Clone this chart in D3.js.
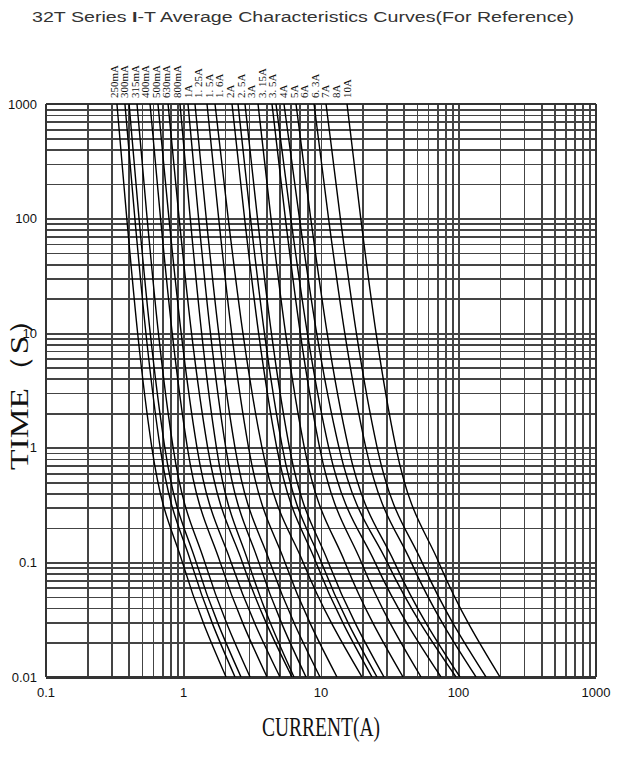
<!DOCTYPE html>
<html><head><meta charset="utf-8">
<script src="https://cdn.jsdelivr.net/npm/d3@7"></script>
<style>body{margin:0;background:#fff}svg{display:block}</style>
</head><body><svg id="c" width="621" height="778"></svg>
<script>
// ---- data ----
const times = [1000, 100, 10, 1, 0.1, 0.01];
const ratingLabels = ["250mA","300mA","315mA","400mA","500mA","630mA","800mA","1A","1. 25A","1. 5A","1. 6A","2A","2. 5A","3A","3. 15A","3. 5A","4A","5A","6A","6. 3A","7A","8A","10A"];
// current (A) at each time in `times`, one row per rating
const currents = [
  [0.328, 0.387, 0.464, 0.589, 0.982, 2.04],
  [0.375, 0.443, 0.533, 0.677, 1.134, 2.37],
  [0.402, 0.475, 0.573, 0.732, 1.237, 2.62],
  [0.459, 0.544, 0.657, 0.841, 1.428, 3.05],
  [0.571, 0.681, 0.828, 1.068, 1.849, 4.05],
  [0.652, 0.784, 0.962, 1.254, 2.22, 5.03],
  [0.772, 0.930, 1.144, 1.50, 2.68, 6.15],
  [0.943, 1.12, 1.355, 1.737, 2.965, 6.36],
  [1.078, 1.288, 1.570, 2.03, 3.53, 7.78],
  [1.212, 1.464, 1.804, 2.37, 4.26, 9.83],
  [1.482, 1.803, 2.24, 2.975, 5.47, 13.07],
  [1.695, 2.115, 2.705, 3.726, 7.42, 19.87],
  [2.253, 2.782, 3.518, 4.77, 9.20, 23.5],
  [2.491, 3.073, 3.878, 5.247, 10.07, 25.55],
  [2.80, 3.454, 4.36, 5.90, 11.32, 28.72],
  [3.483, 4.33, 5.525, 7.57, 14.95, 39.5],
  [4.40, 5.51, 7.07, 9.78, 19.67, 53.4],
  [4.707, 6.035, 7.955, 11.39, 24.7, 74.6],
  [5.38, 6.975, 9.30, 13.53, 30.3, 95.9],
  [6.58, 8.425, 11.09, 15.85, 34.2, 102.5],
  [8.90, 11.35, 14.89, 21.2, 45.3, 134.1],
  [10.88, 13.84, 18.09, 25.63, 54.3, 158.5],
  [15.46, 19.47, 25.15, 35.1, 71.9, 200.4]
];
const xTicks = [0.1, 1, 10, 100, 1000];
const xTickLabels = ["0.1", "1", "10", "100", "1000"];
const yTicks = [1000, 100, 10, 1, 0.1, 0.01];
const yTickLabels = ["1000", "100", "10", "1", "0.1", "0.01"];

// ---- layout ----
const L = 46, R = 596, T = 104, B = 677;
const svg = d3.select("#c");
const x = d3.scaleLog().domain([0.1, 1000]).range([L, R]);
const y = d3.scaleLog().domain([0.01, 1000]).range([B, T]);
const gridColor = "#444";

// grid
const gx = svg.append("g").attr("transform", `translate(0,${B})`)
  .call(d3.axisBottom(x).tickValues(x.ticks()).tickSize(-(B - T)).tickFormat(""));
const gy = svg.append("g").attr("transform", `translate(${L},0)`)
  .call(d3.axisLeft(y).tickValues(y.ticks()).tickSize(-(R - L)).tickFormat(""));
[gx, gy].forEach(g => {
  g.select(".domain").remove();
  g.selectAll(".tick line").attr("stroke", gridColor).attr("stroke-width", 1.7).attr("shape-rendering", "crispEdges");
});
// frame
svg.append("line").attr("x1", L).attr("x2", R).attr("y1", B + 0.5).attr("y2", B + 0.5).attr("stroke", "#333").attr("stroke-width", 3);
svg.append("line").attr("x1", L).attr("x2", L).attr("y1", T).attr("y2", B).attr("stroke", "#333").attr("stroke-width", 2);
svg.append("line").attr("x1", R).attr("x2", R).attr("y1", T).attr("y2", B).attr("stroke", "#333").attr("stroke-width", 2);
svg.append("line").attr("x1", L).attr("x2", R).attr("y1", T).attr("y2", T).attr("stroke", "#333").attr("stroke-width", 2);

// curves
svg.append("clipPath").attr("id", "clip").append("rect").attr("x", L).attr("y", T).attr("width", R - L).attr("height", B - T);
const line = d3.line().x(d => x(d[0])).y(d => y(d[1])).curve(d3.curveMonotoneX);
svg.append("g").attr("clip-path", "url(#clip)")
  .selectAll("path").data(currents).join("path")
  .attr("d", row => line(row.map((c, i) => [c, times[i]])))
  .attr("fill", "none").attr("stroke", "#000").attr("stroke-width", 1.4);

// curve labels
const lx = d3.scalePoint().domain(ratingLabels).range([114, 347]);
svg.append("g").selectAll("text").data(ratingLabels).join("text")
  .attr("transform", d => `translate(${lx(d) + 3.5},98) rotate(-90)`)
  .attr("font-family", "Liberation Serif, DejaVu Serif, serif").attr("font-size", 11)
  .attr("fill", "#111").text(d => d);

// tick labels
svg.append("g").selectAll("text").data(xTicks).join("text")
  .attr("x", d => x(d)).attr("y", 697).attr("text-anchor", "middle")
  .attr("font-family", "Liberation Sans, Arial, sans-serif").attr("font-size", 13)
  .attr("fill", "#111").text((d, i) => xTickLabels[i]);
svg.append("g").selectAll("text").data(yTicks).join("text")
  .attr("x", 37).attr("y", d => y(d) + 4.5).attr("text-anchor", "end")
  .attr("font-family", "Liberation Sans, Arial, sans-serif").attr("font-size", 13)
  .attr("fill", "#111").text((d, i) => yTickLabels[i]);

// title
const t = svg.append("text").attr("x", 32).attr("y", 22)
  .attr("font-family", "Liberation Sans, Arial, sans-serif").attr("font-size", 15.5).attr("fill", "#333")
  .attr("textLength", 542).attr("lengthAdjust", "spacingAndGlyphs");
t.append("tspan").text("32T Series ");
t.append("tspan").attr("font-weight", "bold").text("I");
t.append("tspan").text("-T Average Characteristics Curves(For Reference)");

// axis titles
svg.append("text").attr("x", 262).attr("y", 736)
  .attr("font-family", "Liberation Serif, Times New Roman, serif").attr("font-size", 28)
  .attr("fill", "#111").attr("textLength", 118).attr("lengthAdjust", "spacingAndGlyphs").text("CURRENT(A)");
svg.append("text").attr("transform", "translate(28,470) rotate(-90)")
  .attr("font-family", "Liberation Serif, Times New Roman, serif").attr("font-size", 26)
  .attr("fill", "#111").attr("textLength", 168).attr("lengthAdjust", "spacingAndGlyphs").text("TIME（S）");
</script></body></html>
